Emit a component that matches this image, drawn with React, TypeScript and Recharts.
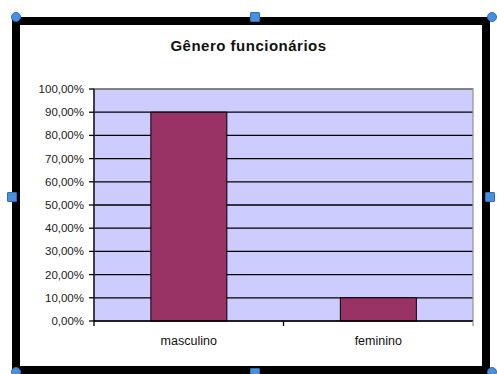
import { BarChart, Bar, XAxis, YAxis, CartesianGrid, ReferenceArea } from 'recharts';

// categorias e valores
const categorias = ['masculino', 'feminino'];
const percentuais = [0.9, 0.1];
const ticksY = [0, 0.1, 0.2, 0.3, 0.4, 0.5, 0.6, 0.7, 0.8, 0.9, 1];
const titulo = 'Gênero funcionários';

const dados = categorias.map((nome, i) => ({ nome, valor: percentuais[i] }));

const fmtPct = (v: number) => (v * 100).toFixed(2).replace('.', ',') + '%';

const azul = '#4a8fdb';

function Alca({ x, y, redonda }: { x: number; y: number; redonda?: boolean }) {
  return (
    <div
      style={{
        position: 'absolute',
        left: x - 5,
        top: y - 5,
        width: 10,
        height: 10,
        background: azul,
        borderRadius: redonda ? '50%' : 1,
        border: '1px solid #2a6fbf',
        boxSizing: 'border-box',
      }}
    />
  );
}

// tick no estilo Excel: marcas nas divisas entre categorias, texto no centro
function TickCategoria(props: any) {
  const { x, y, payload, index, visibleTicksCount } = props;
  const meia = payload.offset || 0;
  const ultimo = index === visibleTicksCount - 1;
  return (
    <g>
      <line x1={x - meia} x2={x - meia} y1={y} y2={y + 5} stroke="#000" strokeWidth={1.3} />
      {ultimo && <line x1={x + meia} x2={x + meia} y1={y} y2={y + 5} stroke="#999" strokeWidth={1.3} />}
      <text x={x} y={y + 15} dy="0.71em" textAnchor="middle" fill="#111" fontSize={12.5}>
        {payload.value}
      </text>
    </g>
  );
}

export default function App() {
  return (
    <div style={{ position: 'absolute', left: 0, top: 0, width: 497, height: 374, background: '#fff', overflow: 'hidden', fontFamily: '"Liberation Sans", Arial, sans-serif' }}>
      <div
        style={{
          position: 'absolute',
          left: 12,
          top: 17,
          width: 478,
          height: 357,
          border: '8px solid #000',
          boxSizing: 'border-box',
        }}
      />
      <div style={{ position: 'absolute', left: 0, width: 497, top: 37, textAlign: 'center', fontWeight: 'bold', fontSize: 15, letterSpacing: 0.5, color: '#111' }}>
        {titulo}
      </div>
      <div style={{ position: 'absolute', left: 0, top: 0 }}>
        <BarChart
          width={497}
          height={374}
          data={dados}
          margin={{ top: 89, right: 24, left: 34, bottom: 23 }}
          barCategoryGap="30%"
        >
          <CartesianGrid horizontal vertical={false} stroke="#000" strokeWidth={1.3} fill="#ccccff" fillOpacity={1} />
          <XAxis
            dataKey="nome"
            tickLine={false}
            tickSize={0}
            tickMargin={0}
            axisLine={{ stroke: '#000', strokeWidth: 1.3 }}
            tick={<TickCategoria />}
            height={30}
            interval={0}
          />
          <YAxis
            domain={[0, 1]}
            ticks={ticksY}
            tickFormatter={fmtPct}
            width={60}
            tickSize={5}
            tickMargin={5}
            axisLine={{ stroke: '#000', strokeWidth: 1.3 }}
            tickLine={{ stroke: '#000', strokeWidth: 1.3 }}
            tick={{ fill: '#222', fontSize: 11.5 }}
            interval={0}
          />
          <ReferenceArea y1={0} y2={1} fill="none" stroke="#999" strokeWidth={1.3} ifOverflow="visible" />
          <Bar dataKey="valor" fill="#993366" stroke="#000" strokeWidth={1} isAnimationActive={false} />
        </BarChart>
      </div>
      <Alca x={16} y={17} redonda />
      <Alca x={255} y={17} />
      <Alca x={492} y={17} redonda />
      <Alca x={12} y={197} />
      <Alca x={490} y={197} />
      <Alca x={16} y={372} redonda />
      <Alca x={255} y={373} />
      <Alca x={492} y={372} redonda />
    </div>
  );
}
